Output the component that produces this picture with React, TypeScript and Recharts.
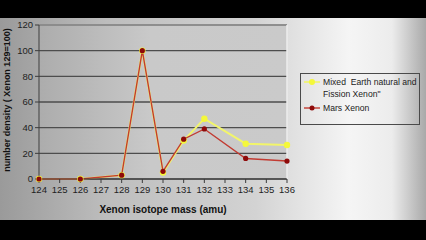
import { LineChart, Line, XAxis, YAxis, CartesianGrid, Legend, ReferenceLine, Label } from 'recharts'

const masses = [124, 126, 128, 129, 130, 131, 132, 134, 136]
const marsXenon = [0, 0, 3, 100, 6, 31, 39, 16, 14]
const mixedXenon = [0, 0, 3, 100, 5, 30, 47, 27.5, 26.5]
const xTicks = [124, 125, 126, 127, 128, 129, 130, 131, 132, 133, 134, 135, 136]
const yTicks = [0, 20, 40, 60, 80, 100, 120]

const MIXED_NAME = 'Mixed  Earth natural and Fission Xenon"'
const MARS_NAME = 'Mars Xenon'

const chartData = masses.map((mass, i) => ({
  mass,
  mixed: mixedXenon[i],
  mars: marsXenon[i],
}))

const FONT = '"Liberation Sans", Arial, sans-serif'

const RedDot = (props: any) => {
  const { cx, cy } = props
  if (cx == null || cy == null) return null
  return <circle cx={cx} cy={cy} r={2.6} fill="#8e0a0a" />
}

const YellowDot = (props: any) => {
  const { cx, cy } = props
  if (cx == null || cy == null) return null
  return <circle cx={cx} cy={cy} r={3.2} fill="#f4f83a" />
}

const LegendBox = () => (
  <div
    style={{
      border: '1px solid #4a4a4a',
      boxSizing: 'border-box',
      width: 120,
      height: 52,
      padding: '2px 0 0 3px',
      fontFamily: FONT,
      fontSize: 8.6,
      lineHeight: '12px',
      color: '#222',
      whiteSpace: 'nowrap',
    }}
  >
    <div style={{ display: 'flex', alignItems: 'flex-start' }}>
      <svg width={17} height={12} style={{ flex: 'none', marginRight: 2 }}>
        <line x1={0} y1={6} x2={16} y2={6} stroke="#f2f56a" strokeWidth={1.6} />
        <circle cx={8} cy={6} r={3} fill="#f4f83a" />
      </svg>
      <span>
        Mixed&nbsp; Earth natural and
        <br />
        Fission Xenon"
      </span>
    </div>
    <div style={{ display: 'flex', alignItems: 'center', marginTop: 2 }}>
      <svg width={17} height={12} style={{ flex: 'none', marginRight: 2 }}>
        <line x1={0} y1={6} x2={16} y2={6} stroke="#c23b32" strokeWidth={1.4} />
        <circle cx={8} cy={6} r={2.5} fill="#8e0a0a" />
      </svg>
      <span>{MARS_NAME}</span>
    </div>
  </div>
)

export default function App() {
  return (
    <div style={{ position: 'fixed', left: 0, top: 0, width: 426, height: 240, background: '#000', overflow: 'hidden' }}>
      <div
        style={{
          position: 'absolute',
          left: 0,
          top: 18,
          width: 426,
          height: 202,
          background:
            'linear-gradient(to right, #9a9a9a 0%, #bdbdbd 25%, #d3d3d3 60%, #f5f5f5 82%, #ececec 92%, #a9a9a9 100%)',
        }}
      />
      <div style={{ position: 'absolute', left: 0, top: 0 }}>
        <LineChart
          width={426}
          height={240}
          data={chartData}
          margin={{ top: 25, right: 139, left: 9, bottom: 31 }}
        >
          <defs>
            <linearGradient id="plotBg" x1="0" y1="0" x2="1" y2="0">
              <stop offset="0%" stopColor="#acacac" />
              <stop offset="45%" stopColor="#c9c9c9" />
              <stop offset="100%" stopColor="#cacaca" />
            </linearGradient>
          </defs>
          <CartesianGrid
            vertical={false}
            stroke="#4d4d4d"
            strokeWidth={1.3}
            fill="url(#plotBg)"
            fillOpacity={1}
          />
          <XAxis
            dataKey="mass"
            type="number"
            domain={[124, 136]}
            ticks={xTicks}
            interval={0}
            stroke="#3c3c3c"
            tickSize={4}
            tickMargin={3}
            tick={{ fill: '#1e1e1e', fontSize: 9.5, fontFamily: FONT }}
            height={30}
          >
            <Label
              value="Xenon isotope mass (amu)"
              position="insideBottom"
              offset={-4}
              style={{ fill: '#111', fontSize: 10, fontWeight: 700, fontFamily: FONT }}
            />
          </XAxis>
          <YAxis
            type="number"
            domain={[0, 120]}
            ticks={yTicks}
            interval={0}
            stroke="#3c3c3c"
            tickSize={4}
            tickMargin={2}
            width={30}
            tick={{ fill: '#1e1e1e', fontSize: 9.5, fontFamily: FONT }}
          >
            <Label
              content={({ viewBox }: any) => {
                const cx = 7
                const cy = viewBox.y + viewBox.height / 2 - 2
                return (
                  <text
                    x={cx}
                    y={cy}
                    transform={`rotate(-90, ${cx}, ${cy})`}
                    textAnchor="middle"
                    dominantBaseline="central"
                    style={{ fill: '#111', fontSize: 9, fontWeight: 700, fontFamily: FONT }}
                  >
                    number density ( Xenon 129=100)
                  </text>
                )
              }}
            />
          </YAxis>
          <ReferenceLine y={120} stroke="#9a9a9a" strokeWidth={1.3} />
          <ReferenceLine x={136} stroke="#ececec" strokeWidth={1.5} />
          <Line
            type="linear"
            dataKey="mixed"
            name={MIXED_NAME}
            stroke="#f2f56a"
            strokeWidth={2}
            dot={<YellowDot />}
            activeDot={false}
            isAnimationActive={false}
          />
          <Line
            type="linear"
            dataKey="mars"
            name={MARS_NAME}
            stroke="#c23b32"
            strokeWidth={1.4}
            dot={<RedDot />}
            activeDot={false}
            isAnimationActive={false}
          />
          <Legend
            layout="vertical"
            align="center"
            verticalAlign="middle"
            content={<LegendBox />}
            wrapperStyle={{ left: 300, top: 73, width: 120, height: 52 }}
          />
        </LineChart>
      </div>
    </div>
  )
}
